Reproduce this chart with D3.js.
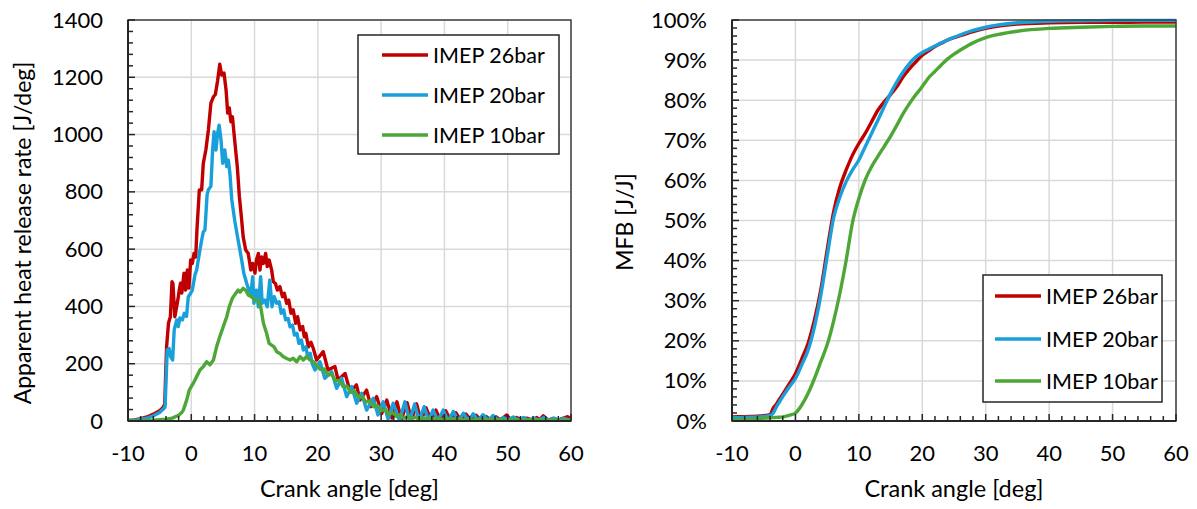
<!DOCTYPE html>
<html>
<head>
<meta charset="utf-8">
<script src="https://cdn.jsdelivr.net/npm/d3@7"></script>
<style>
  body { margin: 0; background: #fff; }
  text { font-family: Lato, 'Open Sans', sans-serif; fill: #000; }
</style>
</head>
<body>
<svg id="chart" width="1197" height="509"></svg>
<script>
// ---------- data ----------
const seriesNames = ['IMEP 26bar', 'IMEP 20bar', 'IMEP 10bar'];
const angleTicks = [-10, 0, 10, 20, 30, 40, 50, 60];
const hrrTicks = [0, 200, 400, 600, 800, 1000, 1200, 1400];
const mfbTicks = [0, 10, 20, 30, 40, 50, 60, 70, 80, 90, 100];

// apparent heat release rate [crank angle, J/deg]
const hrr26 = [[-10,2],[-9,4],[-8,8],[-7,14],[-6,24],[-5,36],[-4.5,46],[-4.2,58],[-3.9,260],[-3.6,342],[-3.3,364],[-3.05,486],[-2.9,480],[-2.6,364],[-2.3,400],[-2.05,434],[-1.9,457],[-1.7,481],[-1.5,447],[-1.15,516],[-0.9,457],[-0.63,527],[-0.37,464],[-0.1,562],[0.16,550],[0.43,585],[0.7,573],[0.9,670],[1.27,807],[1.64,807],[1.9,900],[2.3,946],[2.7,1016],[3.1,1110],[3.5,1132],[3.8,1140],[4.17,1190],[4.5,1246],[4.8,1208],[5.17,1215],[5.5,1155],[5.75,1075],[6.0,1093],[6.27,1045],[6.5,1062],[6.9,970],[7.27,888],[7.6,783],[7.96,702],[8.2,643],[8.6,597],[9.0,585],[9.4,527],[9.7,550],[10.06,516],[10.3,562],[10.6,585],[10.85,527],[11.1,573],[11.4,550],[11.75,585],[12.0,539],[12.3,562],[12.7,527],[12.96,486],[13.3,480],[13.6,457],[14.0,469],[14.4,434],[14.7,446],[15.07,411],[15.4,422],[15.75,376],[16.1,388],[16.5,341],[16.8,364],[17.2,318],[17.6,330],[17.85,294],[18.1,306],[18.5,259],[18.9,275],[19.27,254],[19.8,213],[20.85,242],[21.6,178],[22.7,190],[23.2,143],[24.3,166],[25.1,102],[26.1,126],[26.65,73],[27.7,108],[28.4,50],[29.3,85],[30.1,27],[30.9,73],[31.7,10],[32.5,67],[33.2,5],[34.1,64],[34.8,3],[35.6,60],[36.3,2],[37.1,46],[37.9,2],[38.65,38],[39.4,2],[40.2,36],[41.0,2],[41.8,29],[42.6,2],[43.4,24],[44.2,2],[45.0,20],[45.8,3],[46.55,16],[47.3,3],[48.1,15],[48.9,3],[49.8,21],[50.6,3],[51.4,12],[52.2,3],[53.0,10],[53.8,3],[54.6,12],[55.0,4],[55.6,18],[56.4,3],[57.2,9],[58.0,3],[58.7,9],[59.5,15],[60,6]];

const hrr20 = [[-10,1],[-9,3],[-8,6],[-7,10],[-6,18],[-5,30],[-4.5,40],[-4.15,48],[-3.8,248],[-3.5,253],[-3.27,225],[-2.95,213],[-2.7,318],[-2.3,353],[-2.05,330],[-1.8,360],[-1.4,353],[-1.1,376],[-0.75,365],[-0.47,434],[-0.1,446],[0.16,457],[0.58,510],[0.85,527],[1.27,585],[1.64,632],[1.9,660],[2.16,667],[2.5,790],[2.7,807],[3.1,820],[3.37,946],[3.6,1010],[3.9,946],[4.17,1005],[4.4,1033],[4.7,981],[4.96,900],[5.3,946],[5.6,888],[5.85,911],[6.1,865],[6.4,772],[6.9,695],[7.4,632],[7.96,562],[8.3,516],[8.75,481],[9.1,457],[9.43,446],[9.7,504],[9.9,411],[10.3,457],[10.6,399],[10.96,504],[11.2,411],[11.6,422],[12.0,399],[12.4,492],[12.75,399],[13.1,434],[13.5,411],[13.9,416],[14.2,376],[14.6,388],[14.9,353],[15.3,358],[15.6,329],[16.0,335],[16.3,300],[16.7,306],[17.0,271],[17.4,283],[17.7,248],[18.1,259],[18.4,225],[18.8,236],[19.1,201],[19.54,178],[20.33,207],[21.1,149],[22.18,172],[22.97,114],[23.76,149],[24.55,85],[25.34,120],[26.13,62],[26.92,97],[27.7,38],[28.75,79],[29.5,21],[30.33,67],[31.1,6],[31.9,62],[32.9,1],[33.76,67],[34.5,0],[35.3,59],[36.0,0],[36.8,50],[37.5,0],[38.2,38],[39.0,0],[39.8,38],[40.6,0],[41.4,33],[42.2,0],[43.0,27],[43.8,1],[44.55,25],[45.3,1],[46.1,22],[46.9,2],[47.7,19],[48.5,2],[49.3,12],[50.1,3],[50.9,14],[51.7,3],[52.5,12],[53.3,2],[54.1,10],[54.9,3],[55.7,12],[56.5,3],[57.3,10],[58.1,2],[58.9,9],[59.7,3],[60,4]];

const hrr10 = [[-10,0],[-8,1],[-6,3],[-4,6],[-3,10],[-2,20],[-1.5,30],[-1.26,38],[-0.73,73],[-0.32,108],[0.32,132],[0.85,155],[1.37,178],[1.9,190],[2.43,207],[2.95,196],[3.5,213],[4.0,259],[4.5,294],[5.05,329],[5.6,364],[6.0,399],[6.5,429],[7.06,447],[7.4,457],[7.7,450],[8.2,463],[8.6,457],[9.0,440],[9.5,434],[10.06,422],[10.6,422],[10.96,399],[11.4,341],[11.9,306],[12.3,271],[12.7,265],[13.07,259],[13.5,242],[14.0,236],[14.5,225],[15.0,219],[15.6,213],[16.1,219],[16.65,207],[17.2,225],[17.7,213],[18.2,225],[18.75,213],[19.3,207],[19.8,195],[20.4,180],[21.0,182],[21.6,160],[22.2,163],[22.8,140],[23.4,142],[24.0,120],[24.6,122],[25.2,100],[25.8,104],[26.4,83],[27.0,86],[27.6,66],[28.2,70],[28.8,50],[29.4,54],[30.0,36],[30.6,40],[31.2,24],[31.8,30],[32.4,16],[33.0,22],[33.6,10],[34.2,17],[34.8,7],[35.4,14],[36.0,5],[36.6,12],[37.2,4],[37.8,11],[38.4,4],[39.0,10],[39.6,3],[40.2,9],[40.8,3],[41.4,8],[42.0,3],[42.6,8],[43.2,2],[43.8,7],[44.4,2],[45.0,7],[45.6,2],[46.2,6],[46.8,2],[47.4,6],[48.0,2],[48.6,6],[49.2,2],[49.8,5],[50.4,2],[51.0,5],[51.6,2],[52.2,5],[52.8,2],[53.4,5],[54.0,2],[54.6,5],[55.2,2],[55.8,4],[56.4,2],[57.0,4],[57.6,2],[58.2,4],[58.8,2],[59.4,4],[60,2]];

// mass fraction burned [%]
const mfbAngle = [-10,-8,-6,-4,-3.5,-3,-2.5,-2,-1,0,1,2,3,4,5,6,7,8,9,10,11,12,13,14,15,16,17,18,19,20,21,22,23,24,25,26,28,30,32,35,40,45,50,55,60];
const mfb26 = [1.0,1.1,1.2,1.6,3.2,4.2,5.5,6.7,9.2,11.8,15.5,19.4,25.2,32.7,42.6,52.0,58.3,62.6,66.3,69.2,71.7,74.6,77.5,79.6,81.4,83.4,85.9,87.9,89.6,91.2,92.3,93.4,94.2,95.0,95.6,96.1,97.1,97.9,98.5,99.0,99.3,99.4,99.4,99.5,99.5];
const mfb20 = [0.8,0.9,1.0,1.3,2.0,3.5,4.8,6.1,8.4,10.6,14.0,17.7,23.5,31.4,41.0,50.5,55.8,59.7,62.6,65.1,68.4,71.7,75.0,78.4,81.7,84.6,87.1,89.2,90.8,91.9,92.7,93.5,94.3,95.0,95.7,96.3,97.4,98.2,98.8,99.3,99.7,99.8,99.9,99.9,99.9];
const mfb10 = [0.3,0.4,0.6,0.8,0.85,0.9,0.95,1.0,1.4,2.0,4.0,6.9,10.6,14.8,19.0,24.8,31.8,40.1,49.5,55.5,60.1,63.4,66.0,68.5,71.0,73.8,76.7,79.2,81.4,83.4,85.6,87.2,88.8,90.3,91.5,92.5,94.3,95.6,96.4,97.2,97.9,98.2,98.4,98.5,98.5];

// ---------- styles ----------
const colors = ['#c00000', '#19a0da', '#4da737'];

const svg = d3.select('#chart');

function drawPanel(cfg) {
  const x = d3.scaleLinear().domain([-10, 60]).range([cfg.left, cfg.right]);
  const y = d3.scaleLinear().domain([0, cfg.yMax]).range([cfg.bottom, cfg.top]);
  const g = svg.append('g');

  // gridlines
  g.selectAll('.vgrid').data(angleTicks).enter().append('line')
    .attr('x1', d => x(d)).attr('x2', d => x(d))
    .attr('y1', cfg.top).attr('y2', cfg.bottom)
    .attr('stroke', '#d9d9d9').attr('stroke-width', 1.5);
  g.selectAll('.hgrid').data(cfg.yTicks).enter().append('line')
    .attr('x1', cfg.left).attr('x2', cfg.right)
    .attr('y1', d => y(d)).attr('y2', d => y(d))
    .attr('stroke', '#d9d9d9').attr('stroke-width', 1.5);

  // clip for the series
  const clipId = 'clip' + cfg.id;
  svg.append('clipPath').attr('id', clipId).append('rect')
    .attr('x', cfg.left).attr('y', cfg.top - 2)
    .attr('width', cfg.right - cfg.left).attr('height', cfg.bottom - cfg.top + 2);

  const line = d3.line()
    .x(d => x(d[0]))
    .y(d => y(d[1]))
    .curve(cfg.curve);

  g.append('g').attr('clip-path', `url(#${clipId})`)
    .selectAll('path').data(cfg.series).enter().append('path')
      .attr('d', line)
      .attr('fill', 'none')
      .attr('stroke', (d, i) => colors[i])
      .attr('stroke-width', 3.4)
      .attr('stroke-linejoin', 'round');

  // frame
  g.append('rect')
    .attr('x', cfg.left).attr('y', cfg.top)
    .attr('width', cfg.right - cfg.left).attr('height', cfg.bottom - cfg.top)
    .attr('fill', 'none').attr('stroke', '#404040').attr('stroke-width', 1.5);

  // inward tick marks
  const xMinor = d3.range(-10, 60.01, 2);
  g.selectAll('.xtick').data(xMinor).enter().append('line')
    .attr('x1', d => x(d)).attr('x2', d => x(d))
    .attr('y1', cfg.bottom)
    .attr('y2', d => cfg.bottom - (d % 10 === 0 ? 7 : 5))
    .attr('stroke', '#262626').attr('stroke-width', 1.5);
  const yMinor = d3.range(0, cfg.yMax + 0.01, cfg.yMinor);
  g.selectAll('.ytick').data(yMinor).enter().append('line')
    .attr('y1', d => y(d)).attr('y2', d => y(d))
    .attr('x1', cfg.left)
    .attr('x2', d => cfg.left + (cfg.yTicks.includes(d) ? 7 : 5))
    .attr('stroke', '#262626').attr('stroke-width', 1.5);

  // axis lines
  g.append('line').attr('x1', cfg.left).attr('x2', cfg.left)
    .attr('y1', cfg.top).attr('y2', cfg.bottom)
    .attr('stroke', '#262626').attr('stroke-width', 2);
  g.append('line').attr('x1', cfg.left).attr('x2', cfg.right)
    .attr('y1', cfg.bottom).attr('y2', cfg.bottom)
    .attr('stroke', '#262626').attr('stroke-width', 2);

  // tick labels
  g.selectAll('.xlab').data(angleTicks).enter().append('text')
    .attr('x', d => x(d)).attr('y', cfg.bottom + 40)
    .attr('text-anchor', 'middle').attr('font-size', 22)
    .text(d => d);
  g.selectAll('.ylab').data(cfg.yTicks).enter().append('text')
    .attr('x', cfg.left - 25).attr('y', d => y(d) + 7.5)
    .attr('text-anchor', 'end').attr('font-size', 22)
    .text(cfg.yFormat);

  // axis titles
  g.append('text')
    .attr('x', (cfg.left + cfg.right) / 2).attr('y', cfg.bottom + 76)
    .attr('text-anchor', 'middle').attr('font-size', 23.5)
    .text('Crank angle [deg]');
  g.append('text')
    .attr('transform', `translate(${cfg.yTitleX},${cfg.yTitleY}) rotate(-90)`)
    .attr('text-anchor', 'middle').attr('font-size', 23)
    .text(cfg.yTitle);

  // legend
  const lg = cfg.legend;
  const leg = g.append('g');
  leg.append('rect')
    .attr('x', lg.x).attr('y', lg.y).attr('width', lg.w).attr('height', lg.h)
    .attr('fill', '#fff').attr('stroke', '#262626').attr('stroke-width', 1.5);
  seriesNames.forEach((name, i) => {
    const ry = lg.rows[i];
    leg.append('line')
      .attr('x1', lg.lineX).attr('x2', lg.lineX + 46)
      .attr('y1', ry).attr('y2', ry)
      .attr('stroke', colors[i]).attr('stroke-width', 3.5);
    leg.append('text')
      .attr('x', lg.lineX + 51).attr('y', ry + 7.5)
      .attr('font-size', 21.5)
      .text(name);
  });
}

drawPanel({
  id: 'hrr',
  left: 128, right: 571, top: 20, bottom: 421,
  yMax: 1400, yTicks: hrrTicks, yMinor: 40,
  yFormat: d => d,
  yTitle: 'Apparent heat release rate [J/deg]', yTitleX: 31, yTitleY: 233,
  curve: d3.curveLinear,
  series: [hrr26, hrr20, hrr10],
  legend: { x: 358, y: 35, w: 201, h: 119, lineX: 382, rows: [55, 95, 135] }
});

const toPairs = vals => vals.map((v, i) => [mfbAngle[i], v]);
drawPanel({
  id: 'mfb',
  left: 732, right: 1176, top: 20, bottom: 421,
  yMax: 100, yTicks: mfbTicks, yMinor: 2,
  yFormat: d => d + '%',
  yTitle: 'MFB [J/J]', yTitleX: 633, yTitleY: 222,
  curve: d3.curveMonotoneX,
  series: [toPairs(mfb26), toPairs(mfb20), toPairs(mfb10)],
  legend: { x: 983, y: 275, w: 179, h: 127, lineX: 995, rows: [296, 339, 381] }
});
</script>
</body>
</html>
